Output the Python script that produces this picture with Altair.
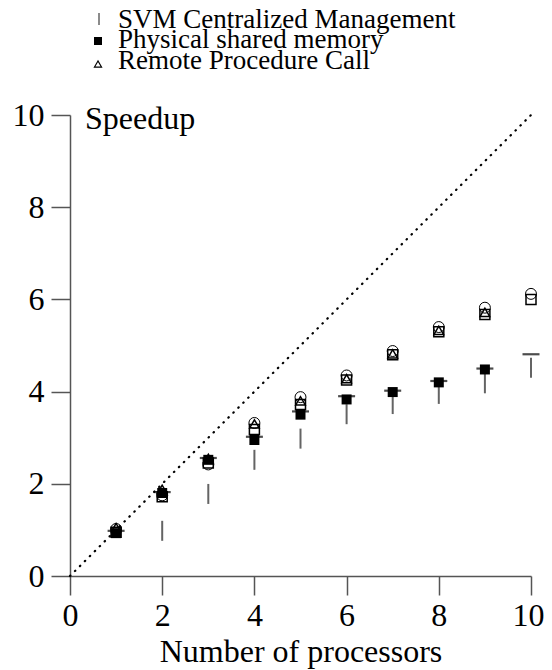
import altair as alt
import pandas as pd

FONT = "Liberation Serif"

procs = [1, 2, 3, 4, 5, 6, 7, 8, 9, 10]
circle_vals = [1.02, 1.75, 2.42, 3.32, 3.88, 4.35, 4.88, 5.40, 5.82, 6.12]
tri_procs = [1, 2, 3, 4, 5, 6, 7, 8, 9]
tri_vals = [1.05, 1.88, 2.55, 3.30, 3.80, 4.28, 4.82, 5.33, 5.72]
opensq_vals = [0.95, 1.72, 2.45, 3.18, 3.72, 4.25, 4.80, 5.30, 5.67, 6.0]
filled_procs = [1, 2, 3, 4, 5, 6, 7, 8, 9]
filled_vals = [0.93, 1.80, 2.52, 2.95, 3.50, 3.83, 3.99, 4.20, 4.48]
dash_vals = [0.98, 1.82, 2.56, 3.02, 3.57, 3.90, 4.02, 4.23, 4.50, 4.81]
svm_procs = [2, 3, 4, 5, 6, 7, 8, 9, 10]
svm_vals = [0.98, 1.78, 2.52, 2.98, 3.51, 3.73, 3.95, 4.18, 4.52]
ideal_x = [0, 10]
ideal_y = [0, 10]
ticks = [0, 2, 4, 6, 8, 10]
legend_labels = ["SVM Centralized Management", "Physical shared memory", "Remote Procedure Call"]

xs = alt.Scale(domain=[0, 10], nice=False, zero=False)
ys = alt.Scale(domain=[0, 10], nice=False, zero=False)

x_axis = alt.Axis(values=ticks, title="Number of processors", grid=False,
                  tickSize=19, labelPadding=5, titlePadding=5, domainColor="#555",
                  tickColor="#555", domainWidth=1.5, tickWidth=1.5,
                  labelFont=FONT, labelFontSize=32, titleFont=FONT, titleFontSize=32,
                  titleFontWeight="normal", labelColor="black", titleColor="black",
                  labelFlush=False, labelOverlap=False,
                  labelOffset={"condition": {"test": "datum.value === 10", "value": -3}, "value": 0})
y_axis = alt.Axis(values=ticks, title=None, grid=False,
                  tickSize=19, labelPadding=7, domainColor="#555",
                  tickColor="#555", domainWidth=1.5, tickWidth=1.5,
                  labelFont=FONT, labelFontSize=32, labelColor="black",
                  labelFlush=False, labelOverlap=False)

def X(field):
    return alt.X(field, type="quantitative", scale=xs, axis=x_axis)

def Y(field):
    return alt.Y(field, type="quantitative", scale=ys, axis=y_axis)

ideal = alt.Chart(pd.DataFrame({"x": ideal_x, "y": ideal_y})).mark_line(
    color="black", strokeDash=[0.5, 6.5], strokeCap="round", strokeWidth=2.2
).encode(x=X("x"), y=Y("y"))

svm = alt.Chart(pd.DataFrame({"x": svm_procs, "y": svm_vals})).mark_tick(
    orient="vertical", size=20, thickness=2, color="#222"
).encode(x=X("x"), y=Y("y"))

dash = alt.Chart(pd.DataFrame({"x": procs, "y": dash_vals})).mark_tick(
    orient="horizontal", size=17, thickness=2.2, color="black"
).encode(x=X("x"), y=Y("y"))

filled = alt.Chart(pd.DataFrame({"x": filled_procs, "y": filled_vals})).mark_point(
    shape="square", filled=True, size=100, color="black", opacity=1
).encode(x=X("x"), y=Y("y"))

opensq = alt.Chart(pd.DataFrame({"x": procs, "y": opensq_vals})).mark_point(
    shape="square", filled=False, size=100, color="black", strokeWidth=1.5, opacity=1
).encode(x=X("x"), y=Y("y"))

tri = alt.Chart(pd.DataFrame({"x": tri_procs, "y": tri_vals})).mark_point(
    shape="triangle-up", filled=False, size=90, color="black", strokeWidth=1.5, opacity=1
).encode(x=X("x"), y=Y("y"))

circ = alt.Chart(pd.DataFrame({"x": procs, "y": circle_vals})).mark_point(
    shape="circle", filled=False, size=120, color="black", strokeWidth=1, opacity=1
).encode(x=X("x"), y=Y("y"))

speedup = alt.Chart(pd.DataFrame({"t": ["Speedup"]})).mark_text(
    font=FONT, fontSize=32, align="left", baseline="alphabetic", color="black"
).encode(x=alt.value(15), y=alt.value(14), text="t:N")

leg_layers = []
row_y = [-87, -67, -46]
for i, lab in enumerate(legend_labels):
    leg_layers.append(
        alt.Chart(pd.DataFrame({"t": [lab]})).mark_text(
            font=FONT, fontSize=27, align="left", baseline="alphabetic", color="black"
        ).encode(x=alt.value(48), y=alt.value(row_y[i]), text="t:N")
    )

leg_sym1 = alt.Chart(pd.DataFrame({"t": [legend_labels[0]]})).mark_tick(
    orient="vertical", size=12, thickness=1.5, color="#222"
).encode(x=alt.value(29), y=alt.value(-96))
leg_sym2 = alt.Chart(pd.DataFrame({"t": [legend_labels[1]]})).mark_point(
    shape="square", filled=True, size=64, color="black", opacity=1
).encode(x=alt.value(28), y=alt.value(-74))
leg_sym3 = alt.Chart(pd.DataFrame({"t": [legend_labels[2]]})).mark_point(
    shape="triangle-up", filled=False, size=50, color="black", strokeWidth=1.2, opacity=1
).encode(x=alt.value(28), y=alt.value(-51))

chart = alt.layer(
    ideal, svm, dash, filled, opensq, tri, circ, speedup, *leg_layers,
    leg_sym1, leg_sym2, leg_sym3
).properties(
    width=461, height=461,
    background="white",
    autosize=alt.AutoSizeParams(type="none"),
    padding={"left": 62, "top": 107, "right": 13, "bottom": 94},
).configure_view(stroke="transparent", strokeWidth=0)

chart.save("out.html", embed_options={"renderer": "svg", "actions": False})
